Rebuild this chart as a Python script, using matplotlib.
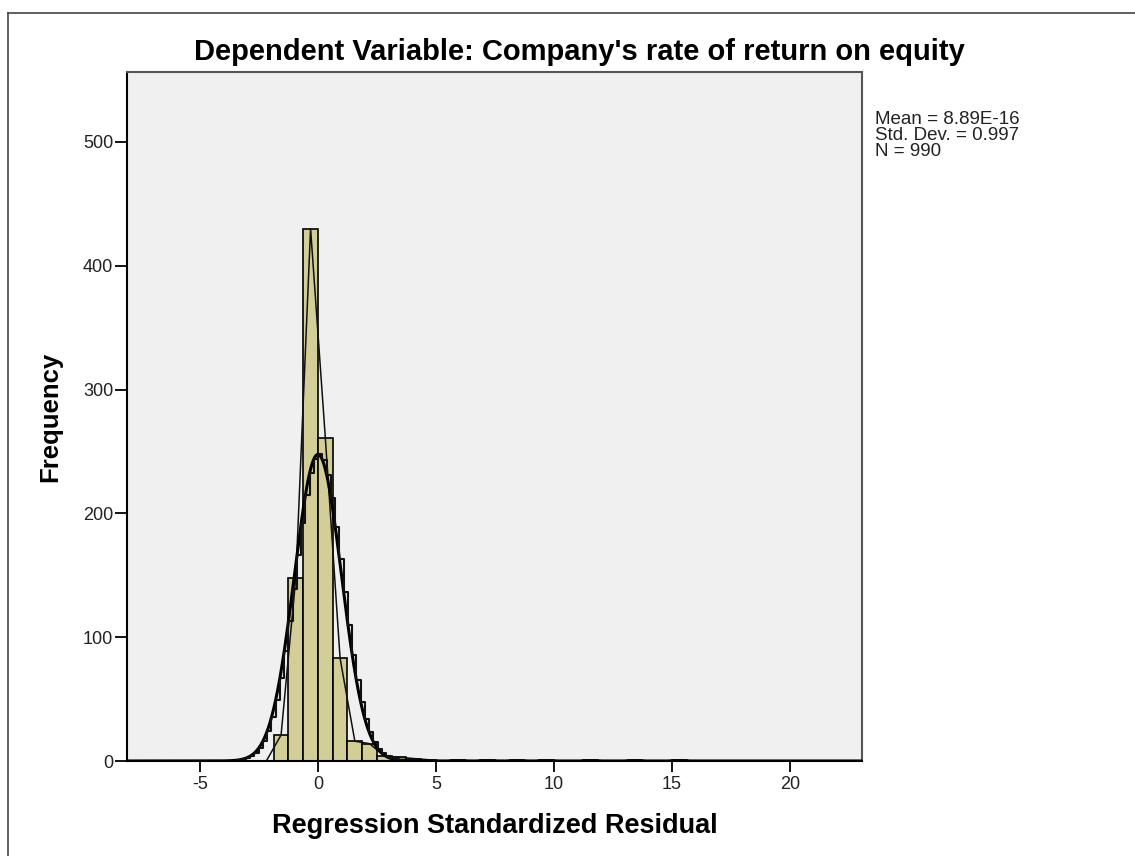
import numpy as np
import matplotlib
matplotlib.use("Agg")
import matplotlib.pyplot as plt
from matplotlib.lines import Line2D

# ---- data ----
title = "Dependent Variable: Company's rate of return on equity"
x_label = "Regression Standardized Residual"
y_label = "Frequency"
bin_width = 0.625
bin_left = [-1.875, -1.25, -0.625, 0.0, 0.625, 1.25, 1.875, 2.5, 3.125, 3.75,
            4.375, 5.625, 6.875, 8.125, 9.375, 11.25, 13.125, 15.0]
counts = [21, 148, 430, 261, 83, 16, 14, 4, 3, 2,
          1, 1, 1, 1, 1, 1, 1, 1]
mean_val = 8.89e-16
std_val = 0.997
n_val = 990
stats_lines = ["Mean = 8.89E-16", "Std. Dev. = 0.997", "N = 990"]
x_ticks = [-5, 0, 5, 10, 15, 20]
y_ticks = [0, 100, 200, 300, 400, 500]

plt.rcParams['font.family'] = ['Liberation Sans', 'DejaVu Sans']
plt.rcParams['axes.unicode_minus'] = False

W, H = 1135, 856
fig = plt.figure(figsize=(W / 100, H / 100), dpi=100)
fig.patch.set_facecolor('white')
ax = fig.add_axes([127 / W, (H - 761) / H, (862 - 127) / W, (761 - 72) / H])
ax.set_facecolor('#F0F0F0')

xmin, xmax = -8.09, 23.05
ymax = 556.5

# histogram bars
ax.bar(bin_left, counts, width=bin_width, align='edge', color='#D3CE97',
       edgecolor='black', linewidth=1.2, zorder=2)

# normal curve (from stats)
scale = n_val * bin_width / (std_val * np.sqrt(2 * np.pi))
xs = np.linspace(xmin, xmax, 2000)
ys = scale * np.exp(-0.5 * ((xs - mean_val) / std_val) ** 2)
ax.plot(xs, ys, color='black', linewidth=2.2, zorder=4)

# stepped rendering of the normal curve
xs_step = np.arange(xmin, xmax, 0.18)
ys_step = scale * np.exp(-0.5 * ((xs_step - mean_val) / std_val) ** 2)
ax.step(xs_step, ys_step, where='post', color='#111111', linewidth=1.5, zorder=4)

# frequency polygon through bar midpoints
grid_left = np.arange(-2.5, 15.625 + 1e-9, bin_width)
grid_counts = np.zeros(len(grid_left))
for bl, c in zip(bin_left, counts):
    idx = int(round((bl - grid_left[0]) / bin_width))
    grid_counts[idx] = c
mids = grid_left + bin_width / 2
ax.plot(mids, grid_counts, color='#111111', linewidth=1.1, zorder=3)

ax.set_xlim(xmin, xmax)
ax.set_ylim(0, ymax)
ax.set_xticks(x_ticks)
ax.set_yticks(y_ticks)
ax.tick_params(axis='both', direction='out', width=1.3, labelsize=13,
               colors='black', labelcolor='#222222')
ax.tick_params(axis='y', length=9, pad=1)
ax.tick_params(axis='x', length=8, pad=3)
for s in ['left', 'bottom']:
    ax.spines[s].set_color('black')
    ax.spines[s].set_linewidth(1.5)
for s in ['top', 'right']:
    ax.spines[s].set_color('#555555')
    ax.spines[s].set_linewidth(1.5)
ax.spines['bottom'].set_zorder(5)

ax.set_xlabel(x_label, fontsize=19.5, fontweight='bold', labelpad=14)
ax.set_ylabel(y_label, fontsize=18.5, fontweight='bold', labelpad=15)
fig.text(579 / W, 1 - 52 / H, title, fontsize=21, fontweight='bold',
         ha='center', va='center')

fig.text(875 / W, 1 - 111 / H, "\n".join(stats_lines), fontsize=13.5,
         ha='left', va='top', linespacing=0.93, color='#222222')

# outer frame (top and left edges)
fig.add_artist(Line2D([8 / W, 1.0], [1 - 13 / H, 1 - 13 / H],
                      transform=fig.transFigure, color='#444444', linewidth=1.2))
fig.add_artist(Line2D([8 / W, 8 / W], [0.0, 1 - 13 / H],
                      transform=fig.transFigure, color='#444444', linewidth=1.2))

fig.savefig('out.png', dpi=100, facecolor='white')
